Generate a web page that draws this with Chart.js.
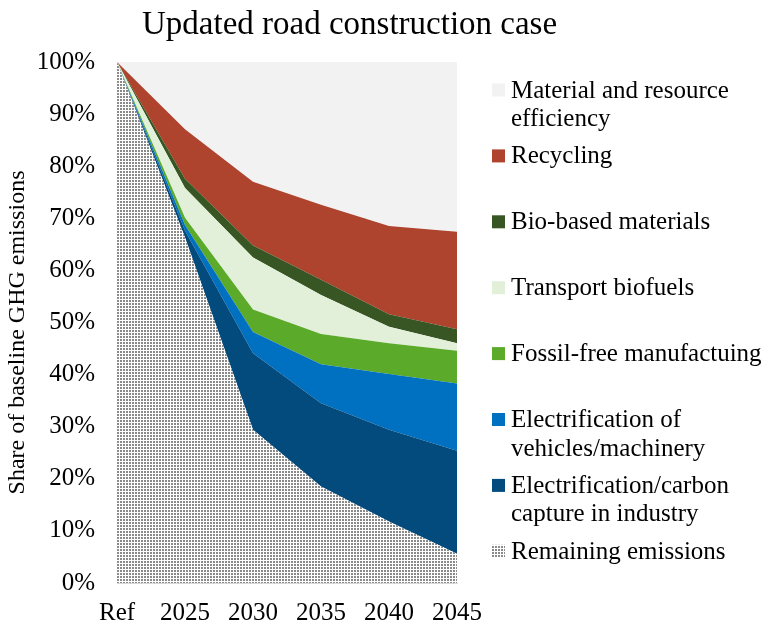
<!DOCTYPE html>
<html>
<head>
<meta charset="utf-8">
<script src="https://cdn.jsdelivr.net/npm/chart.js@4"></script>
<style>
  html, body { margin: 0; padding: 0; background: #ffffff; }
  #wrap { width: 765px; height: 630px; position: relative; }
</style>
</head>
<body>
<div id="wrap"><canvas id="c" width="765" height="630"></canvas></div>
<script>
// ---- data (percent of baseline GHG emissions, stacked bottom -> top) ----
const categories = ['Ref', '2025', '2030', '2035', '2040', '2045'];
const remainingEmissions   = [100, 66.3, 29.4, 18.5, 11.8, 5.6];
const industryElectrification = [0, 1.3, 14.7, 16.0, 17.6, 19.8];
const vehicleElectrification  = [0, 1.1, 4.1, 7.5, 10.7, 12.9];
const fossilFreeManufacturing = [0, 1.4, 4.3, 5.8, 5.9, 6.3];
const transportBiofuels       = [0, 5.7, 10.0, 7.5, 3.2, 1.4];
const bioBasedMaterials       = [0, 1.8, 2.3, 2.9, 2.4, 2.7];
const recycling               = [0, 9.5, 12.2, 14.4, 16.9, 18.7];
const materialEfficiency      = [0, 12.9, 23.0, 27.4, 31.5, 32.6];
const yTicks = [0, 10, 20, 30, 40, 50, 60, 70, 80, 90, 100];

const titleText = 'Updated road construction case';
const yTitle = 'Share of baseline GHG emissions';

const FONT = '"Liberation Serif", "Times New Roman", serif';

// dotted pattern for remaining emissions
function makePattern() {
  const t = document.createElement('canvas');
  t.width = 3; t.height = 3;
  const g = t.getContext('2d');
  g.fillStyle = '#ffffff'; g.fillRect(0, 0, 3, 3);
  g.fillStyle = '#8a8a8a'; g.fillRect(0, 0, 2, 2);
  return document.getElementById('c').getContext('2d').createPattern(t, 'repeat');
}
const dotPattern = makePattern();

const series = [
  { label: ['Remaining emissions'], data: remainingEmissions, color: dotPattern },
  { label: ['Electrification/carbon', 'capture in industry'], data: industryElectrification, color: '#034B7C' },
  { label: ['Electrification of', 'vehicles/machinery'], data: vehicleElectrification, color: '#0070C0' },
  { label: ['Fossil-free manufactuing'], data: fossilFreeManufacturing, color: '#5BAA2A' },
  { label: ['Transport biofuels'], data: transportBiofuels, color: '#E2F0D9' },
  { label: ['Bio-based materials'], data: bioBasedMaterials, color: '#375623' },
  { label: ['Recycling'], data: recycling, color: '#AE432E' },
  { label: ['Material and resource', 'efficiency'], data: materialEfficiency, color: '#F2F2F2' }
];

const datasets = series.map((s, i) => ({
  label: s.label.join(' '),
  legendLines: s.label,
  data: s.data,
  backgroundColor: s.color,
  borderColor: 'rgba(0,0,0,0)',
  borderWidth: 0,
  pointRadius: 0,
  pointHoverRadius: 0,
  tension: 0,
  fill: i === 0 ? 'origin' : '-1'
}));

const titlePlugin = {
  id: 'customTitle',
  afterDraw(chart) {
    const ctx = chart.ctx;
    ctx.save();
    ctx.fillStyle = '#000000';
    ctx.font = '33px ' + FONT;
    ctx.textAlign = 'left';
    ctx.textBaseline = 'middle';
    ctx.fillText(titleText, 142, 25);
    // y axis title
    const area = chart.chartArea;
    ctx.font = '24px ' + FONT;
    ctx.textAlign = 'center';
    ctx.translate(18, (area.top + area.bottom) / 2 + 10);
    ctx.rotate(-Math.PI / 2);
    ctx.fillText(yTitle, 0, 0);
    ctx.restore();
  }
};

const legendPlugin = {
  id: 'customLegend',
  afterDraw(chart) {
    const ctx = chart.ctx;
    const area = chart.chartArea;
    const boxX = area.right + 35;
    const textX = boxX + 19;
    const top = area.top + 28;
    const step = 65.9;
    const lineH = 28.5;
    ctx.save();
    ctx.font = '25px ' + FONT;
    ctx.textBaseline = 'middle';
    ctx.textAlign = 'left';
    const ds = chart.data.datasets.slice().reverse();
    ds.forEach((d, k) => {
      const y = top + k * step;
      ctx.fillStyle = d.backgroundColor;
      ctx.fillRect(boxX, y - 6.5, 13, 13);
      ctx.fillStyle = '#000000';
      d.legendLines.forEach((line, j) => {
        ctx.fillText(line, textX, y + 1 + j * lineH);
      });
    });
    ctx.restore();
  }
};

new Chart(document.getElementById('c'), {
  type: 'line',
  data: { labels: categories, datasets: datasets },
  options: {
    responsive: false,
    animation: false,
    events: [],
    layout: { padding: { top: 62, right: 308, left: 0, bottom: 0 } },
    plugins: {
      legend: { display: false },
      title: { display: false },
      tooltip: { enabled: false },
      filler: { propagate: false }
    },
    scales: {
      x: {
        type: 'category',
        offset: false,
        grid: { display: false, drawTicks: false },
        border: { display: true, color: '#d9d9d9', width: 1 },
        ticks: {
          color: '#000000',
          font: { family: FONT, size: 25 },
          padding: 15,
          maxRotation: 0,
          autoSkip: false
        },
        afterFit(scale) { scale.height = 47; }
      },
      y: {
        stacked: true,
        min: 0,
        max: 100,
        afterBuildTicks(scale) { scale.ticks = yTicks.map(v => ({ value: v })); },
        grid: { color: '#d9d9d9', drawTicks: false },
        border: { display: false },
        ticks: {
          color: '#000000',
          font: { family: FONT, size: 25 },
          padding: 22,
          callback: v => v + '%'
        },
        afterFit(scale) { scale.width = 117; }
      }
    }
  },
  plugins: [titlePlugin, legendPlugin]
});
</script>
</body>
</html>
